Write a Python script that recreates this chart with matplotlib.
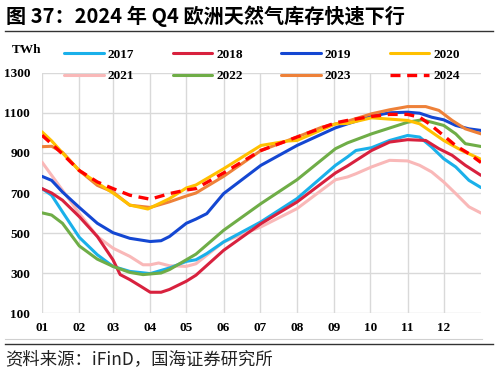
import matplotlib
matplotlib.use("Agg")
import matplotlib.pyplot as plt
from matplotlib.lines import Line2D

# ---- data (day of year, TWh) ----
d2017 = [0, 8, 17, 31, 46, 59, 73, 90, 106, 120, 128, 137, 151, 182, 212, 244, 254, 261, 274, 289, 304, 314, 324, 334, 344, 355, 365]
v2017 = [722, 689, 606, 479, 392, 334, 309, 298, 326, 359, 367, 398, 456, 556, 672, 838, 880, 912, 926, 962, 987, 979, 929, 871, 830, 763, 727]

d2018 = [0, 8, 17, 31, 46, 59, 65, 73, 82, 90, 99, 106, 120, 128, 151, 182, 212, 244, 254, 274, 289, 304, 319, 330, 341, 352, 365]
v2018 = [722, 700, 664, 582, 483, 367, 293, 268, 235, 205, 205, 219, 260, 290, 414, 547, 655, 800, 835, 912, 954, 966, 962, 921, 888, 838, 788]

d2019 = [0, 8, 17, 31, 46, 59, 73, 90, 99, 106, 120, 128, 137, 151, 182, 212, 244, 254, 274, 289, 304, 314, 324, 334, 344, 355, 365]
v2019 = [783, 763, 705, 628, 549, 502, 474, 458, 462, 483, 549, 570, 597, 697, 838, 937, 1025, 1045, 1083, 1100, 1103, 1098, 1078, 1065, 1037, 1020, 1012]

d2020 = [0, 8, 17, 31, 46, 59, 73, 88, 106, 120, 128, 151, 182, 204, 212, 244, 254, 274, 304, 314, 322, 334, 349, 365]
v2020 = [1005, 960, 900, 812, 750, 700, 640, 620, 672, 725, 740, 821, 937, 959, 962, 1045, 1047, 1075, 1062, 1045, 1012, 962, 912, 868]

d2021 = [0, 8, 17, 31, 46, 59, 73, 84, 90, 97, 106, 120, 128, 151, 182, 212, 244, 254, 261, 274, 289, 304, 314, 324, 334, 344, 355, 365]
v2021 = [854, 788, 714, 598, 483, 425, 384, 342, 342, 351, 337, 334, 347, 456, 531, 622, 766, 780, 796, 830, 863, 860, 838, 805, 755, 697, 631, 600]

d2022 = [0, 8, 17, 31, 46, 59, 73, 84, 99, 106, 120, 128, 151, 182, 212, 244, 254, 274, 304, 316, 324, 334, 344, 352, 365]
v2022 = [601, 590, 549, 436, 370, 334, 304, 293, 301, 318, 367, 395, 514, 647, 766, 921, 950, 995, 1053, 1065, 1053, 1037, 995, 946, 932]

d2023 = [0, 8, 17, 31, 46, 59, 73, 90, 106, 120, 128, 151, 182, 212, 233, 254, 274, 289, 304, 319, 330, 341, 352, 365]
v2023 = [931, 933, 903, 812, 738, 705, 639, 628, 656, 685, 700, 783, 912, 979, 1029, 1058, 1095, 1115, 1131, 1131, 1112, 1062, 1020, 995]

d2024 = [0, 8, 17, 31, 46, 59, 73, 90, 106, 120, 128, 151, 182, 212, 244, 254, 274, 289, 304, 314, 322, 334, 344, 355, 365]
v2024 = [988, 945, 895, 812, 755, 722, 689, 669, 697, 715, 722, 800, 912, 979, 1050, 1062, 1082, 1092, 1092, 1078, 1045, 986, 936, 896, 852]

month_starts = [0, 31, 59, 90, 120, 151, 181, 212, 243, 273, 304, 334]
month_labels = ["01", "02", "03", "04", "05", "06", "07", "08", "09", "10", "11", "12"]
y_ticks = [100, 300, 500, 700, 900, 1100, 1300]

series = [
    ("2017", d2017, v2017, "#1AB0EA", "-"),
    ("2018", d2018, v2018, "#D8213E", "-"),
    ("2019", d2019, v2019, "#1447D2", "-"),
    ("2020", d2020, v2020, "#FFC000", "-"),
    ("2021", d2021, v2021, "#F9B8B8", "-"),
    ("2022", d2022, v2022, "#6FAD47", "-"),
    ("2023", d2023, v2023, "#EE8139", "-"),
    ("2024", d2024, v2024, "#FF0000", "--"),
]

plt.rcParams['font.family'] = ['Noto Sans CJK SC', 'DejaVu Sans']

fig = plt.figure(figsize=(4.98, 3.75), dpi=100)
ax = fig.add_axes([42/498, 1-313.3/375, (481-42)/498, (313.3-72.7)/375])

handles = {}
order_z = {"2021": 2, "2017": 3, "2018": 4, "2022": 5, "2019": 6, "2023": 7, "2020": 8, "2024": 9}
for name, d, v, c, ls in series:
    if ls == "--":
        ln, = ax.plot(d, v, color=c, lw=2.4, ls=(0, (3, 2)), zorder=order_z[name])
    else:
        ln, = ax.plot(d, v, color=c, lw=2.2, ls=ls, zorder=order_z[name],
                      solid_capstyle='round', solid_joinstyle='round')
    handles[name] = ln

ax.set_xlim(0, 365)
ax.set_ylim(100, 1300)
ax.set_xticks(month_starts)
ax.set_xticklabels(month_labels)
ax.set_yticks(y_ticks)
for s in ax.spines.values():
    s.set_visible(False)
ax.grid(True, color="#D9D9D9", lw=1.0, zorder=0)
ax.set_axisbelow(True)
ax.tick_params(axis="y", length=0, pad=8.5)
ax.tick_params(axis="x", length=0, pad=6)
for lab in ax.get_xticklabels() + ax.get_yticklabels():
    lab.set_fontfamily("Liberation Serif")
    lab.set_fontweight("bold")
    lab.set_fontsize(9.5)

fig.text(12/498, 1-50/375, "TWh", family="Liberation Serif", weight="bold", fontsize=9.5, va="center", ha="left")

leg_order = ["2017", "2021", "2018", "2022", "2019", "2023", "2020", "2024"]
leg = fig.legend([handles[n] for n in leg_order], leg_order, ncol=4, loc="center",
                 bbox_to_anchor=(262/498, 1-65.5/375), frameon=False,
                 prop={"family": "Liberation Serif", "weight": "bold", "size": 9.5},
                 handlelength=3.0, handletextpad=0.3, columnspacing=2.9, labelspacing=0.7)

fig.text(6/498, 1-16/375, "图 37：2024 年 Q4 欧洲天然气库存快速下行", fontsize=14.5, weight="bold",
         va="center", ha="left")
fig.add_artist(Line2D([5/498, 493/498], [1-31/375, 1-31/375], color="#333333", lw=1.0))
fig.add_artist(Line2D([5/498, 482/498], [1-339/375, 1-339/375], color="#D0D0D0", lw=0.8))
fig.add_artist(Line2D([5/498, 493/498], [1-344/375, 1-344/375], color="#333333", lw=1.0))
fig.text(5/498, 1-359/375, "资料来源：iFinD，国海证券研究所", fontsize=12.5, color="#222222",
         va="center", ha="left")

fig.savefig("out.png", dpi=100)
